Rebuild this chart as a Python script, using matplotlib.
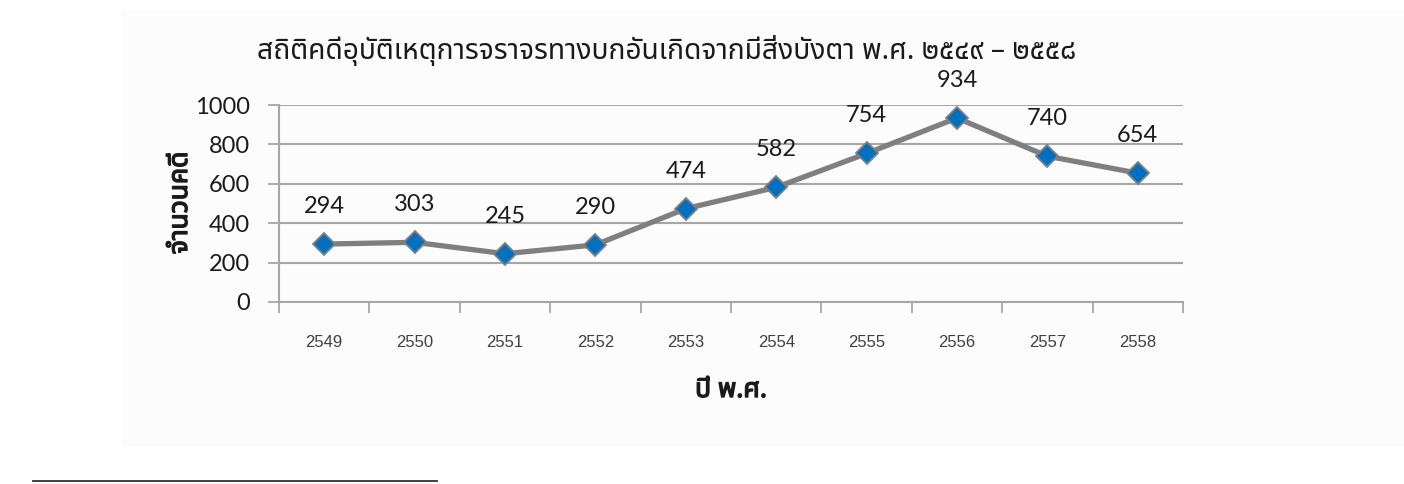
"""
Road traffic accidents caused by obstructed view, B.E. 2549 - 2558
"""

import matplotlib
matplotlib.use("Agg")
import matplotlib.pyplot as plt
import matplotlib.patheffects as pe
import numpy as np
from matplotlib.lines import Line2D
from matplotlib.patches import Rectangle

# data
years = ["2549", "2550", "2551", "2552", "2553",
         "2554", "2555", "2556", "2557", "2558"]
cases = [294, 303, 245, 290, 474, 582, 754, 934, 740, 654]

title = "สถิติคดีอุบัติเหตุการจราจรทางบกอันเกิดจากมีสิ่งบังตา พ.ศ. ๒๕๔๙ – ๒๕๕๘"
x_label = "ปี พ.ศ."
y_label = "จำนวนคดี"
y_ticks = [0, 200, 400, 600, 800, 1000]

THAI = ["Noto Sans Thai", "DejaVu Sans"]
NUM = ["Lato", "DejaVu Sans"]
GRID = "#a6a6a6"
INK = "#1a1a1a"

# regular-only Thai font, so thicken the bold labels with a stroke
fake_bold = [pe.withStroke(linewidth=1.0, foreground=INK)]

fig = plt.figure(figsize=(14.04, 4.84), dpi=100)

# faint panel behind the chart, as in the source document
fig.patches.append(
    Rectangle((122 / 1404, 1 - 447 / 484), 1 - 122 / 1404, (447 - 10) / 484,
              transform=fig.transFigure, facecolor="#fcfcfc",
              edgecolor="none", zorder=-5)
)

ax = fig.add_axes([279 / 1404, 1 - 302 / 484, 904 / 1404, 197 / 484])
ax.set_facecolor("none")

x = np.arange(len(years))

ax.plot(
    x,
    cases,
    color="#7f7f7f",
    linewidth=3.8,
    marker="D",
    markersize=11.5,
    markerfacecolor="#0070c0",
    markeredgecolor="#808080",
    markeredgewidth=1.3,
    zorder=3,
)

# data labels
for xi, v in zip(x, cases):
    ax.annotate(
        str(v),
        (xi, v),
        xytext=(0, 27),
        textcoords="offset points",
        ha="center",
        va="center",
        fontsize=17,
        family=NUM,
        color=INK,
    )

ax.set_xlim(-0.5, len(years) - 0.5)
ax.set_ylim(0, 1000)

# y axis
ax.set_yticks(y_ticks)
ax.set_yticklabels([str(t) for t in y_ticks], family=NUM, fontsize=17,
                   color=INK)
ax.tick_params(axis="y", length=8, width=1.3, color=GRID, pad=13)
ax.grid(axis="y", color=GRID, linewidth=1.5)
ax.set_axisbelow(True)

# x axis: labels centred, tick marks between categories
ax.set_xticks(x)
ax.set_xticklabels(years, family=["Liberation Sans", "DejaVu Sans"],
                   fontsize=12, color="#404040")
ax.tick_params(axis="x", which="major", length=0, pad=24)
ax.set_xticks(np.arange(-0.5, len(years)), minor=True)
ax.tick_params(axis="x", which="minor", length=8, width=1.3, color=GRID)

for side in ["top", "right"]:
    ax.spines[side].set_visible(False)
for side in ["left", "bottom"]:
    ax.spines[side].set_color(GRID)
    ax.spines[side].set_linewidth(1.5)

fig.text(667 / 1404, 1 - 50 / 484, title, ha="center", va="center",
         fontsize=20.3, family=THAI, color=INK)
fig.text(180 / 1404, 1 - 203 / 484, y_label, ha="center", va="center",
         rotation=90, fontsize=19, family=THAI, color=INK,
         path_effects=fake_bold)
fig.text(731 / 1404, 1 - 390 / 484, x_label, ha="center", va="center",
         fontsize=19, family=THAI, color=INK, path_effects=fake_bold)

# footnote rule below the chart
fig.add_artist(
    Line2D([33 / 1404, 437 / 1404], [1 - 481 / 484] * 2,
           transform=fig.transFigure, color="#333333", linewidth=1.3)
)

fig.savefig("out.png", dpi=100)
